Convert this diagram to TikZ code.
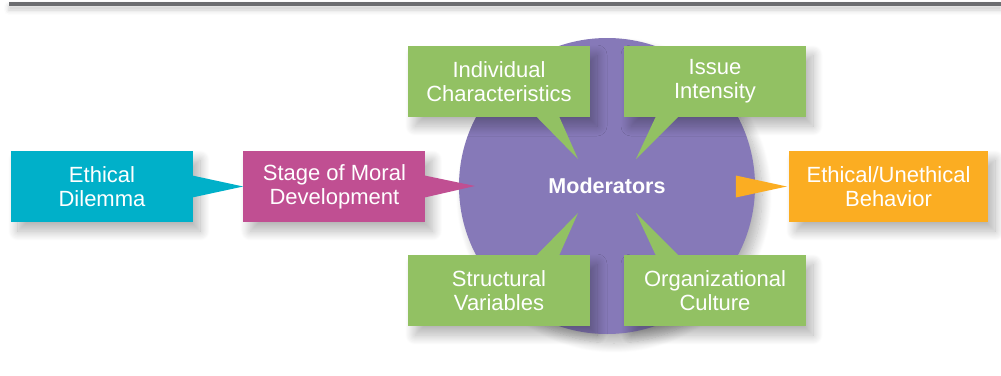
\documentclass[tikz,border=0pt]{standalone}
\usepackage{fontspec}
\setmainfont{Liberation Sans}
\usetikzlibrary{positioning,calc,shadows.blur}
\definecolor{dilcol}{HTML}{00B0C9}
\definecolor{stagecol}{HTML}{C04F92}
\definecolor{modcol}{HTML}{8679B8}
\definecolor{modgreen}{HTML}{92C163}
\definecolor{behcol}{HTML}{FBAD22}
\definecolor{barcol}{HTML}{6D6E71}
\tikzset{softshadow/.style={blur shadow={shadow xshift=7pt,shadow yshift=-9pt,shadow blur radius=10pt,
  shadow blur steps=20,shadow opacity=30}}}
\tikzset{box/.style={minimum width=182pt,minimum height=71pt,inner sep=0pt,align=center,text=white,
  font=\fontsize{22}{24}\selectfont,softshadow}}

\begin{document}
\begin{tikzpicture}[x=1pt,y=-1pt]
\useasboundingbox (0,0) rectangle (1001,375);
\fill[barcol,blur shadow={shadow xshift=0pt,shadow yshift=-4pt,shadow blur radius=5pt,shadow opacity=20}]
  (9,2) rectangle (1001,6);
\node[circle,fill=modcol,minimum size=296pt,inner sep=0pt,text=white,
  font=\bfseries\fontsize{21.5}{24}\selectfont,softshadow] (mod) at (607,186) {Moderators};
\node[box,fill=dilcol] (dil) at (102,186.5) {Ethical\\Dilemma};
\node[box,fill=stagecol,right=50pt of dil] (stage) {Stage of Moral\\Development};
\node[box,fill=modgreen] (ind) at (499,81.5) {Individual\\Characteristics};
\node[box,fill=modgreen] (iss) at (715,81.5) {Issue\\Intensity};
\node[box,fill=modgreen] (str) at (499,290.5) {Structural\\Variables};
\node[box,fill=modgreen] (org) at (715,290.5) {Organizational\\Culture};
\node[box,fill=behcol,minimum width=199pt] (beh) at (888.5,186.5) {Ethical/Unethical\\Behavior};
% pointers
\fill[dilcol] ($(dil.east)+(-1,-11)$) -- (stage.west) -- ($(dil.east)+(-1,11)$) -- cycle;
\fill[stagecol] ($(stage.east)+(-1,-11)$) -- ($(mod.center)+(-132,0)$) -- ($(stage.east)+(-1,11)$) -- cycle;
\fill[behcol] ($(beh.west)+(-53,-11)$) -- ($(beh.west)+(-2,0)$) -- ($(beh.west)+(-53,11)$) -- cycle;
\fill[modgreen] ($(ind.south)+(37,-1)$) -- ($(mod.center)+(-29,-27)$) -- ($(ind.south)+(60,-1)$) -- cycle;
\fill[modgreen] ($(iss.south)+(-59,-1)$) -- ($(mod.center)+(29,-27)$) -- ($(iss.south)+(-36,-1)$) -- cycle;
\fill[modgreen] ($(str.north)+(37,1)$) -- ($(mod.center)+(-29,27)$) -- ($(str.north)+(60,1)$) -- cycle;
\fill[modgreen] ($(org.north)+(-59,1)$) -- ($(mod.center)+(29,27)$) -- ($(org.north)+(-36,1)$) -- cycle;
\end{tikzpicture}
\end{document}
